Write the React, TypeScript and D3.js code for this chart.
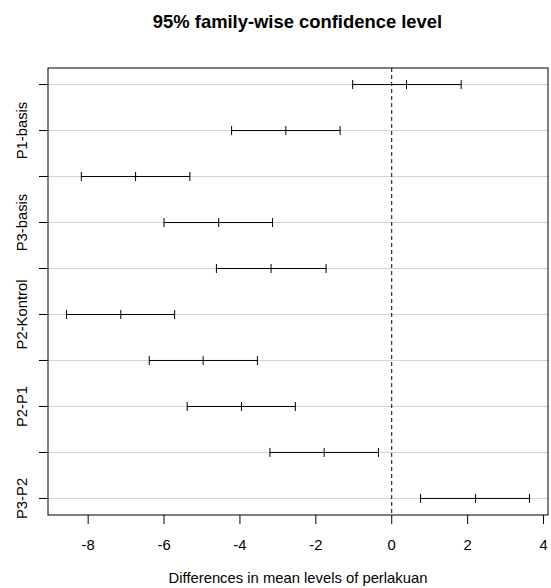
import React from "react";
import * as d3 from "d3";

const comparisons = [
  "Kontrol-basis", "P1-basis", "P2-basis", "P3-basis", "P1-Kontrol",
  "P2-Kontrol", "P3-Kontrol", "P2-P1", "P3-P1", "P3-P2",
];
const diffs = [0.39, -2.79, -6.75, -4.56, -3.18, -7.14, -4.97, -3.96, -1.78, 2.21];
const lowers = [-1.03, -4.22, -8.18, -6.0, -4.62, -8.57, -6.39, -5.39, -3.21, 0.76];
const uppers = [1.83, -1.36, -5.32, -3.14, -1.73, -5.72, -3.54, -2.54, -0.35, 3.63];
const xTicks = [-8, -6, -4, -2, 0, 2, 4];

const W = 551, H = 588;
const L = 48, R = 548, T = 68, B = 515;
const FONT = "'Liberation Sans', Arial, sans-serif";

export default function App() {
  const n = comparisons.length;
  const lo = d3.min(lowers)!, hi = d3.max(uppers)!;
  const pad = (hi - lo) * 0.04;
  const x = d3.scaleLinear().domain([lo - pad, hi + pad]).range([L, R]);
  const ypad = (n - 1) * 0.04;
  const y = d3.scaleLinear().domain([1 - ypad, n + ypad]).range([B, T]);
  const yv = (i: number) => y(n - i);
  const cap = 4.5;
  return (
    <svg width={W} height={H} style={{ position: "absolute", left: 0, top: 0, background: "#fff" }}>
      <text x={297.5} y={28} textAnchor="middle" fontFamily={FONT} fontWeight="bold" fontSize={18.4}>
        95% family-wise confidence level
      </text>
      {comparisons.map((c, i) => (
        <line key={"g" + i} x1={L} x2={R} y1={yv(i)} y2={yv(i)} stroke="#d3d3d3" strokeWidth={1} />
      ))}
      <line x1={x(0)} x2={x(0)} y1={T} y2={B} stroke="#000" strokeWidth={1} strokeDasharray="4,3" />
      {comparisons.map((c, i) => {
        const yy = yv(i);
        return (
          <g key={"e" + i} stroke="#000" strokeWidth={1}>
            <line x1={x(lowers[i])} x2={x(uppers[i])} y1={yy} y2={yy} />
            <line x1={x(lowers[i])} x2={x(lowers[i])} y1={yy - cap} y2={yy + cap} />
            <line x1={x(diffs[i])} x2={x(diffs[i])} y1={yy - cap} y2={yy + cap} />
            <line x1={x(uppers[i])} x2={x(uppers[i])} y1={yy - cap} y2={yy + cap} />
          </g>
        );
      })}
      <rect x={L} y={T} width={R - L} height={B - T} fill="none" stroke="#000" strokeWidth={1} />
      {comparisons.map((c, i) => (
        <g key={"yt" + i}>
          <line x1={L - 9} x2={L} y1={yv(i)} y2={yv(i)} stroke="#000" />
          {i % 2 === 1 && (
            <text
              transform={`translate(26.5,${yv(i)}) rotate(-90)`}
              textAnchor="middle"
              fontFamily={FONT}
              fontSize={14.8}
            >
              {c}
            </text>
          )}
        </g>
      ))}
      {xTicks.map((t) => (
        <g key={"xt" + t}>
          <line x1={x(t)} x2={x(t)} y1={B} y2={B + 9} stroke="#000" />
          <text x={x(t)} y={550} textAnchor="middle" fontFamily={FONT} fontSize={14.8}>
            {t}
          </text>
        </g>
      ))}
      <text x={298} y={583} textAnchor="middle" fontFamily={FONT} fontSize={14.8}>
        Differences in mean levels of perlakuan
      </text>
    </svg>
  );
}
